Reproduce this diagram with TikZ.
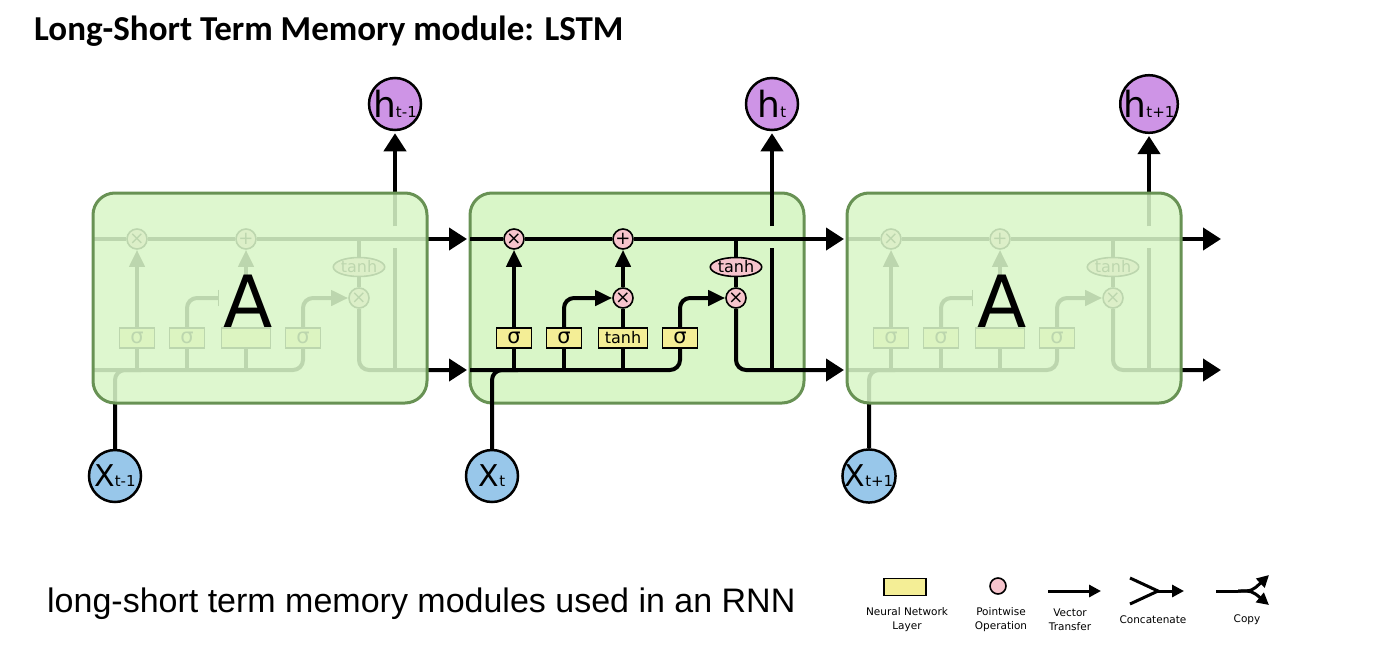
\documentclass[tikz,border=0pt]{standalone}
\usepackage{fontspec}
\setmainfont{DejaVu Sans}
\newfontfamily\titlefont{Carlito}
\newfontfamily\captionfont{Liberation Sans}
\usetikzlibrary{arrows.meta,positioning,shapes.geometric}

\definecolor{cellgreen}{RGB}{217,246,200}
\definecolor{celledge}{RGB}{104,146,84}
\definecolor{layeryellow}{RGB}{244,238,150}
\definecolor{pointpink}{RGB}{246,196,204}
\definecolor{hpurple}{RGB}{206,148,230}
\definecolor{xblue}{RGB}{152,199,234}

\tikzset{
  cellbox/.style={draw=celledge, line width=3pt, rounded corners=22pt, fill=cellgreen},
  cellname/.style={fill=cellgreen!87!white, inner xsep=4pt, inner ysep=0pt, font=\fontsize{72}{72}\selectfont},
  layer/.style={draw=black, line width=1.6pt, fill=layeryellow, minimum width=35pt, minimum height=20pt, inner sep=0pt, font=\fontsize{21}{21}\selectfont},
  pointop/.style={circle, draw=black, line width=1.6pt, fill=pointpink, minimum size=20pt, inner sep=0pt, font=\fontsize{18}{18}\selectfont},
  tanhop/.style={ellipse, draw=black, line width=1.6pt, fill=pointpink, minimum width=50pt, minimum height=19pt, inner sep=0pt, font=\fontsize{16}{16}\selectfont},
  hnode/.style={circle, draw=black, line width=2.5pt, fill=hpurple, minimum size=52pt, inner sep=0pt},
  xnode/.style={circle, draw=black, line width=2.5pt, fill=xblue, minimum size=52pt, inner sep=0pt},
  flow/.style={line width=4pt},
  vec/.style={flow, -{Triangle[length=17pt,width=15pt]}},
  bigvec/.style={flow, -{Triangle[length=18pt,width=22pt]}},
  legline/.style={line width=3pt},
  legvec/.style={legline, -{Triangle[length=12pt,width=12pt]}},
  legtext/.style={align=center, inner sep=0pt, font=\fontsize{10.5}{14}\selectfont},
}

% wires of one cell, local coordinates from the top left corner of its box
\newcommand{\lstmwires}[3]{%
  \node[hnode] (h) at (302,-89) {\fontsize{36}{36}\selectfont h\fontsize{15}{15}\selectfont #1};
  \node[xnode] (x) at (22,283) {\fontsize{30}{30}\selectfont X\fontsize{15}{15}\selectfont #1};
  \node[pointop] (fx) at (44,46) {×};
  \node[pointop] (ad) at (153,46) {+};
  \node[pointop] (ix) at (153,105) {#3};
  \node[pointop] (ox) at (266,105) {×};
  \node[tanhop] (th) at (266,74) {tanh};
  \node[layer] (fs) at (44,145) {σ};
  \node[layer] (is) at (94,145) {σ};
  \node[layer, minimum width=49pt, font=\fontsize{16}{16}\selectfont] (cs) at (153,145) {#2};
  \node[layer] (os) at (210,145) {σ};
  \coordinate (cin) at (0,46);
  \coordinate (cout) at (374,46);
  \coordinate (ctap) at (266,46);
  \coordinate (hin) at (0,177);
  \coordinate (hout) at (374,177);
  \coordinate (hj) at (302,177);
  \coordinate (hlo) at (302,55);
  \coordinate (hhi) at (302,33);
  \coordinate (xm) at (48,177);
  \draw[flow] (cin) -- (fx) -- (ad);
  \draw[bigvec] (ad) -- (cout);
  \draw[flow] (ctap) -- (th);
  \draw[flow] (th) -- (ox);
  \draw[bigvec, rounded corners=10pt] (ox) |- (hout);
  \draw[flow] (hj) -- (hlo);
  \draw[bigvec, shorten >=2pt] (hhi) -- (h);
  \draw[flow, rounded corners=10pt] (hin) -| (os);
  \draw[flow, rounded corners=10pt] (x) |- (xm);
  \draw[flow] (fs |- hin) -- (fs);
  \draw[flow] (is |- hin) -- (is);
  \draw[flow] (cs |- hin) -- (cs);
  \draw[vec] (fs) -- (fx);
  \draw[vec, rounded corners=10pt] (is) |- (ix);
  \draw[flow] (cs) -- (ix);
  \draw[vec] (ix) -- (ad);
  \draw[vec, rounded corners=10pt] (os) |- (ox);
}

\begin{document}
\begin{tikzpicture}[x=1pt,y=-1pt]
  \useasboundingbox (0,0) rectangle (1399,656);

  \node[anchor=base west, inner sep=0pt, font=\titlefont\bfseries\fontsize{35}{35}\selectfont] (title) at (34,40) {Long-Short Term Memory module: LSTM};

  % previous step, seen through its box
  \begin{scope}[shift={(93,193)}, name prefix=prev-]
    \lstmwires{t-1}{}{}
    \draw[cellbox, fill opacity=0.87] (0,0) rectangle (334,210);
    \node[cellname] (A) at (155,108) {A};
  \end{scope}

  % current step
  \begin{scope}[shift={(470,193)}, name prefix=now-]
    \draw[cellbox] (0,0) rectangle (334,210);
    \lstmwires{t}{tanh}{×}
  \end{scope}

  % next step
  \begin{scope}[shift={(847,193)}, name prefix=next-]
    \lstmwires{t+1}{}{}
    \draw[cellbox, fill opacity=0.87] (0,0) rectangle (334,210);
    \node[cellname] (A) at (155,108) {A};
  \end{scope}

  \node[anchor=base west, inner sep=0pt, font=\captionfont\fontsize{34}{34}\selectfont] (caption) at (47,612) {long-short term memory modules used in an RNN};

  % legend
  \node[layer, minimum width=42pt, minimum height=17pt] (lglayer) at (905,587) {};
  \node[pointop, minimum size=16pt] (lgpoint) at (998,586) {};
  \coordinate (lgva) at (1048,591);
  \coordinate (lgvb) at (1101,591);
  \draw[legvec] (lgva) -- (lgvb);
  \coordinate (lgca) at (1130,578);
  \coordinate (lgcb) at (1130,604);
  \coordinate (lgcm) at (1158,591);
  \coordinate (lgcc) at (1184,591);
  \draw[legline] (lgca) -- (lgcm) -- (lgcb);
  \draw[legvec] (lgcm) -- (lgcc);
  \coordinate (lgpa) at (1216,591);
  \coordinate (lgpb) at (1238,591);
  \coordinate (lgpc) at (1269,575);
  \coordinate (lgpd) at (1269,605);
  \draw[legline] (lgpa) -- (lgpb);
  \draw[legvec] (lgpb) .. controls (1252,591) .. (lgpc);
  \draw[legvec] (lgpb) .. controls (1252,591) .. (lgpd);
  \node[legtext] (lglayertext) at (907,620) {Neural Network\\Layer};
  \node[legtext] (lgpointtext) at (1001,620) {Pointwise\\Operation};
  \node[legtext] (lgvectext) at (1070,620) {Vector\\Transfer};
  \node[legtext] (lgcattext) at (1153,620) {Concatenate};
  \node[legtext] (lgcopytext) at (1247,620) {Copy};
\end{tikzpicture}
\end{document}
